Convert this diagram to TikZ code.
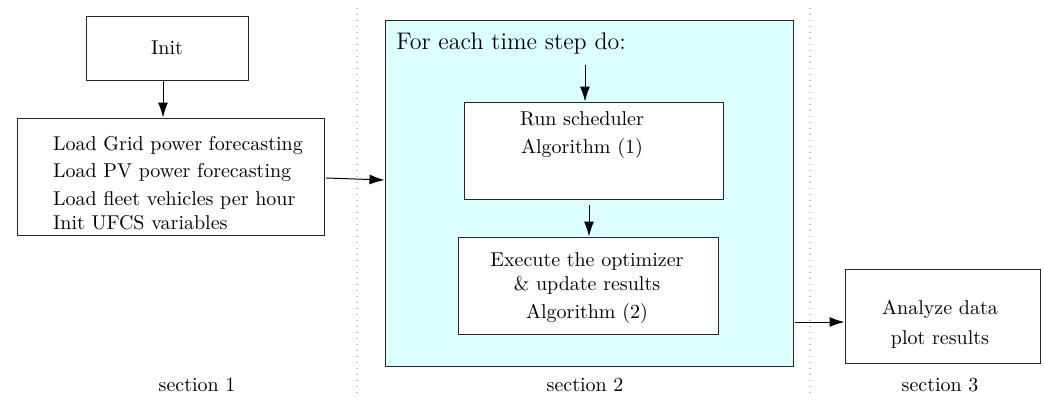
\documentclass[tikz,border=0pt]{standalone}
\usetikzlibrary{arrows.meta}
\definecolor{loopcyan}{RGB}{220,255,255}
\begin{document}
\begin{tikzpicture}[x=0.5pt,y=-0.5pt,
  box/.style={draw=black!85,line width=0.5pt,fill=white,inner sep=0pt},
  txt/.style={inner sep=0pt,font=\normalsize},
  arr/.style={-{Latex[length=7.5pt,width=5pt]},line width=0.5pt},
  sep/.style={draw=black!25,dash pattern=on 0.6pt off 2.4pt,line width=0.6pt}]
\useasboundingbox (0,0) rectangle (1045,403);
% separators
\draw[sep] (357,8) -- (357,395);
\draw[sep] (810,8) -- (810,395);
% section 1
\node[box,minimum width=81pt,minimum height=32pt] (init) at (167,48) {Init};
\node[box,minimum width=153.5pt,minimum height=58.5pt] (load) at (170.5,176.5) {};
\node[txt,align=left] (loadtxt) at (178,183) {Load Grid power forecasting\\[1.6pt]Load PV power forecasting\\[1.6pt]Load fleet vehicles per hour\\Init UFCS variables};
% section 2
\node[box,fill=loopcyan,minimum width=204pt,minimum height=173pt] (loop) at (589,193) {};
\node[txt,anchor=base west,font=\large] (looptitle) at (396,49) {For each time step do:};
\node[box,minimum width=129.5pt,minimum height=48.5pt] (run) at (593.5,150.5) {};
\node[txt,align=center] (runtxt) at (582,135) {Run scheduler\\[2pt]Algorithm (1)};
\node[box,minimum width=130pt,minimum height=48.5pt] (exec) at (588,285.5) {};
\node[txt,align=center] (exectxt) at (587,288) {Execute the optimizer\\ \& update results\\[2pt]Algorithm (2)};
% section 3
\node[box,minimum width=97.5pt,minimum height=47pt] (ana) at (942.5,316) {};
\node[txt,align=center] (anatxt) at (940,324) {Analyze data\\[3pt]plot results};
% labels
\node[txt] (s1) at (197,385) {section 1};
\node[txt] (s2) at (585,385) {section 2};
\node[txt] (s3) at (940,385) {section 3};
% connectors
\coordinate (a1) at (163,80);
\draw[arr] (a1) -- (a1 |- load.north);
\coordinate (a2) at (326,178);
\draw[arr] (a2) -- (loop.west |- 0,180);
\coordinate (a3) at (585,65);
\draw[arr] (a3) -- (a3 |- run.north);
\coordinate (a4) at (589,205);
\draw[arr] (a4) -- (a4 |- exec.north);
\coordinate (a5) at (795,322);
\draw[arr] (a5) -- (a5 -| ana.west);
\end{tikzpicture}
\end{document}
